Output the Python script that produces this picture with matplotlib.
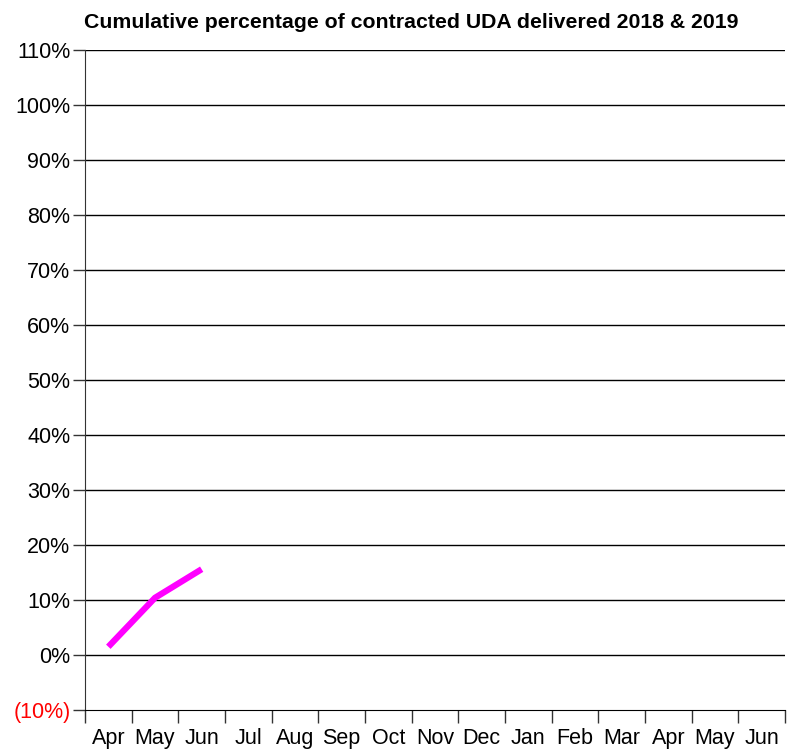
import matplotlib.pyplot as plt
import numpy as np

months = ["Apr", "May", "Jun", "Jul", "Aug", "Sep", "Oct", "Nov", "Dec",
          "Jan", "Feb", "Mar", "Apr", "May", "Jun"]
delivered = [1.5, 10.4, 15.6]
y_ticks = list(range(-10, 111, 10))

plt.rcParams['font.family'] = ['Liberation Sans', 'DejaVu Sans']

fig = plt.figure(figsize=(7.87, 7.53), dpi=100)
ax = fig.add_axes([85 / 787, 43 / 753, 700 / 787, 660 / 753])

x = np.arange(len(delivered))
ax.plot(x, delivered, color='#ff00ff', linewidth=4.5, solid_capstyle='butt')

ax.set_xlim(-0.5, len(months) - 0.5)
ax.set_ylim(-10, 110)

ax.set_yticks(y_ticks)
labels = [f"({abs(v)}%)" if v < 0 else f"{v}%" for v in y_ticks]
ax.set_yticklabels(labels, fontsize=15.5)
for lab, v in zip(ax.get_yticklabels(), y_ticks):
    if v < 0:
        lab.set_color('red')
for v in y_ticks[1:]:
    ax.axhline(v, color='black', linewidth=1, zorder=0)

ax.set_xticks(np.arange(len(months)))
ax.set_xticklabels(months, fontsize=15.5)
ax.set_xticks(np.arange(len(months) + 1) - 0.5, minor=True)
ax.tick_params(axis='x', which='major', length=0, pad=13)
ax.tick_params(axis='x', which='minor', length=9, width=1, direction='out', color='#333333')
ax.tick_params(axis='y', length=9, width=1, color='#333333', pad=1.5)

for side in ['top', 'right']:
    ax.spines[side].set_visible(False)
ax.spines['left'].set_color('#333333')
ax.spines['bottom'].set_color('black')

fig.text(411 / 787, 1 - 22 / 753, "Cumulative percentage of contracted UDA delivered 2018 & 2019",
         ha='center', va='center', fontsize=15.3, fontweight='bold')

fig.savefig('out.png', dpi=100)
